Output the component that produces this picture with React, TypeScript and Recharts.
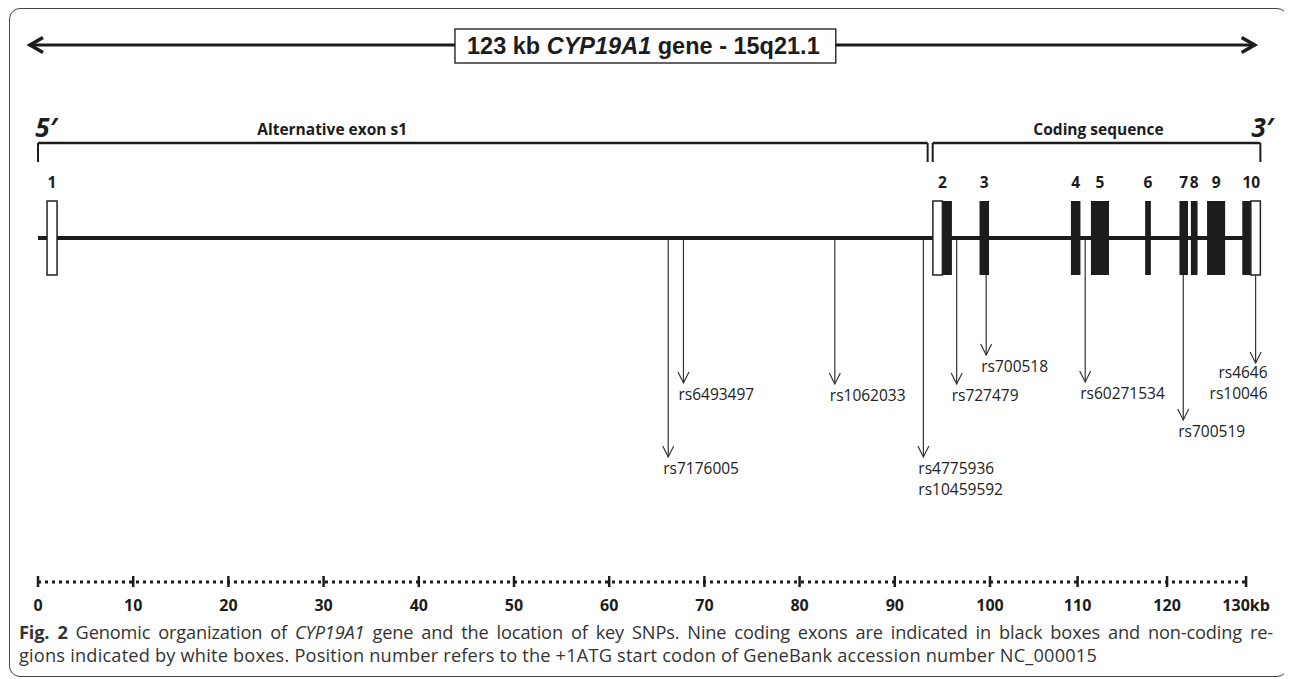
import React from "react";
import { ComposedChart, XAxis, YAxis, Scatter, ReferenceArea, ReferenceLine } from "recharts";

// positions along the gene in kb (as drawn in the figure)
const GENE_SPAN = [0, 127];
const ARROW_ENDS = [-0.84, 127.8];
const TITLE_SPAN = [43.8, 83.8];

const EXON_NAMES = ["1", "2", "3", "4", "5", "6", "7", "8", "9", "10"];
const EXON_SPANS = [
  [0.95, 2.0], [94.0, 96.0], [98.9, 99.9], [108.5, 109.5], [110.6, 112.5],
  [116.3, 116.9], [119.9, 120.8], [121.1, 121.8], [122.8, 124.7], [126.5, 128.4],
];
const CODING_PARTS = [
  [95.0, 96.0], [98.9, 99.9], [108.5, 109.5], [110.6, 112.5], [116.3, 116.9],
  [119.9, 120.8], [121.1, 121.8], [122.8, 124.7], [126.5, 127.4],
];
const NONCODING_PARTS = [[0.95, 2.0], [94.0, 95.0], [127.4, 128.4]];

const REGION_NAMES = ["Alternative exon s1", "Coding sequence"];
const REGION_SPANS = [[0, 93.45], [93.98, 128.4]];
const REGION_LABEL_POS = [30.9, 111.4];
const END_LABELS = ["5\u2032", "3\u2032"];
const END_LABEL_POS = [0.85, 128.6];

const SNP_NAMES = [
  ["rs7176005"], ["rs6493497"], ["rs1062033"], ["rs4775936", "rs10459592"], ["rs727479"],
  ["rs700518"], ["rs60271534"], ["rs700519"], ["rs4646", "rs10046"],
];
const SNP_POS = [66.2, 67.8, 83.7, 93.0, 96.5, 99.6, 110.0, 120.3, 127.9];
const SNP_DEPTH = [-219, -145, -146, -219, -146, -117, -144, -182, -125];
const SNP_IN_EXON = [false, false, false, false, false, true, false, true, true];

const TICK_POS = [0, 10, 20, 30, 40, 50, 60, 70, 80, 90, 100, 109.2, 118.6, 126.9];
const TICK_LABELS = ["0", "10", "20", "30", "40", "50", "60", "70", "80", "90", "100", "110", "120", "130kb"];

// vertical layout (track units, gene line = 0)
const BOX_H = 37;
const EXON_LABEL_Y = 56;
const BRACKET_Y = 95;
const BRACKET_TICK_Y = 76;
const REGION_LABEL_Y = 109;
const END_LABEL_Y = 111;
const ARROW_Y = 193;
const TITLE_Y = [175, 209];
const Y_DOMAIN = [-344, 230];

const INK = "#1c1c1c";
const SANS = "'Open Sans', 'Noto Sans', sans-serif";

const exonLabels = EXON_NAMES.map((n, i) => ({ x: (EXON_SPANS[i][0] + EXON_SPANS[i][1]) / 2, y: EXON_LABEL_Y, t: n }));
const regionLabels = REGION_NAMES.map((n, i) => ({ x: REGION_LABEL_POS[i], y: REGION_LABEL_Y, t: n }));
const endLabels = END_LABELS.map((n, i) => ({ x: END_LABEL_POS[i], y: END_LABEL_Y, t: n }));
const snps = SNP_POS.map((x, i) => ({ x, y: SNP_DEPTH[i], names: SNP_NAMES[i] }));
const arrowTips = ARROW_ENDS.map((x) => ({ x, y: ARROW_Y }));

const BoldLabel = (size: number, italic = false) => (p: any) => (
  <text x={p.cx} y={p.cy} textAnchor="middle" dominantBaseline="central" fontFamily={SANS}
    fontWeight={700} fontStyle={italic ? "italic" : "normal"} fontSize={size} fill={INK}>
    {p.payload.t}
  </text>
);

const SnpTip = (p: any) => {
  const right = p.payload.x > 127;
  const tx = right ? p.cx + 12 : p.cx - 5;
  return (
    <g>
      <path d={`M${p.cx - 5.5},${p.cy - 11} L${p.cx},${p.cy} L${p.cx + 5.5},${p.cy - 11}`}
        fill="none" stroke="#333" strokeWidth={1.2} />
      <text x={tx} y={p.cy + (right ? 15 : 17)} textAnchor={right ? "end" : "start"}
        fontFamily={SANS} fontSize={15.5} fill="#222">
        {p.payload.names.map((n: string, k: number) => (
          <tspan key={n} x={tx} dy={k === 0 ? 0 : 21}>{n}</tspan>
        ))}
      </text>
    </g>
  );
};

const ArrowTip = (p: any) => {
  const dir = p.payload.x < 0 ? -1 : 1;
  return (
    <path d={`M${p.cx - dir * 13},${p.cy - 7.5} L${p.cx},${p.cy} L${p.cx - dir * 13},${p.cy + 7.5}`}
      fill="none" stroke={INK} strokeWidth={3.5} />
  );
};

const renderTitle = (props: any) => {
  const vb = props.viewBox;
  return (
    <text x={vb.x + vb.width / 2 - 2} y={vb.y + vb.height / 2} textAnchor="middle" dominantBaseline="central"
      fontFamily="'Liberation Sans', Arial, sans-serif" fontWeight={700} fontSize={23.5} fill={INK}>
      123 kb <tspan fontStyle="italic">CYP19A1</tspan> gene - 15q21.1
    </text>
  );
};

const ScaleTick = (p: any) => (
  <g>
    <line x1={p.x} x2={p.x} y1={p.y - 6} y2={p.y + 5} stroke={INK} strokeWidth={2.5} />
    <text x={p.x} y={p.y + 23} textAnchor="middle" dominantBaseline="central" fontFamily={SANS}
      fontWeight={700} fontSize={16} fill={INK}>
      {TICK_LABELS[p.index]}
    </text>
  </g>
);

export default function App() {
  return (
    <div style={{ position: "relative", width: 1280, height: 671 }}>
      <div style={{ position: "absolute", left: 1, top: 0, width: 1279, height: 669, boxSizing: "border-box",
        border: "1.5px solid #444", borderRadius: 11 }} />
      <div style={{ position: "absolute", left: 0, top: 0 }}>
        <ComposedChart width={1280} height={620} margin={{ top: 0, right: 2.88, bottom: 0, left: 1.44 }}>
          <XAxis type="number" dataKey="x" domain={[-3, 131]} ticks={TICK_POS} interval={0}
            axisLine={false} tickLine={false} tickSize={0} tickMargin={0} height={46} tick={<ScaleTick />} />
          <YAxis type="number" dataKey="y" domain={Y_DOMAIN} hide />

          {/* top arrow and title box */}
          <ReferenceLine segment={[{ x: ARROW_ENDS[0], y: ARROW_Y }, { x: TITLE_SPAN[0], y: ARROW_Y }]}
            stroke={INK} strokeWidth={3} ifOverflow="visible" />
          <ReferenceLine segment={[{ x: TITLE_SPAN[1], y: ARROW_Y }, { x: ARROW_ENDS[1], y: ARROW_Y }]}
            stroke={INK} strokeWidth={3} ifOverflow="visible" />
          <ReferenceArea x1={TITLE_SPAN[0]} x2={TITLE_SPAN[1]} y1={TITLE_Y[0]} y2={TITLE_Y[1]}
            fill="#fff" fillOpacity={1} stroke="#333" strokeWidth={1.5} ifOverflow="visible" label={renderTitle} />

          {/* brackets */}
          {REGION_SPANS.map((s, i) => (
            <React.Fragment key={"br" + i}>
              <ReferenceLine segment={[{ x: s[0], y: BRACKET_Y }, { x: s[1], y: BRACKET_Y }]}
                stroke={INK} strokeWidth={2.5} ifOverflow="visible" />
              <ReferenceLine segment={[{ x: s[0], y: BRACKET_Y }, { x: s[0], y: BRACKET_TICK_Y }]}
                stroke={INK} strokeWidth={2} ifOverflow="visible" />
              <ReferenceLine segment={[{ x: s[1], y: BRACKET_Y }, { x: s[1], y: BRACKET_TICK_Y }]}
                stroke={INK} strokeWidth={2} ifOverflow="visible" />
            </React.Fragment>
          ))}

          {/* gene line and exons */}
          <ReferenceArea x1={GENE_SPAN[0]} x2={GENE_SPAN[1]} y1={-2} y2={2} fill={INK} fillOpacity={1}
            stroke="none" ifOverflow="visible" />
          {CODING_PARTS.map((s, i) => (
            <ReferenceArea key={"c" + i} x1={s[0]} x2={s[1]} y1={-BOX_H} y2={BOX_H} fill={INK} fillOpacity={1}
              stroke="none" ifOverflow="visible" />
          ))}
          {NONCODING_PARTS.map((s, i) => (
            <ReferenceArea key={"n" + i} x1={s[0]} x2={s[1]} y1={-BOX_H} y2={BOX_H} fill="#fff" fillOpacity={1}
              stroke="#222" strokeWidth={1.5} ifOverflow="visible" />
          ))}

          {/* SNP stems */}
          {SNP_POS.map((x, i) => (
            <ReferenceLine key={"s" + i} segment={[{ x, y: SNP_IN_EXON[i] ? -BOX_H : -2 }, { x, y: SNP_DEPTH[i] }]}
              stroke="#333" strokeWidth={1.2} ifOverflow="visible" />
          ))}

          {/* scale bar */}
          <ReferenceLine segment={[{ x: TICK_POS[0], y: Y_DOMAIN[0] }, { x: TICK_POS[TICK_POS.length - 1], y: Y_DOMAIN[0] }]}
            stroke={INK} strokeWidth={3} strokeDasharray="3 4" ifOverflow="visible" />

          <Scatter data={arrowTips} shape={ArrowTip} isAnimationActive={false} />
          <Scatter data={snps} shape={SnpTip} isAnimationActive={false} />
          <Scatter data={exonLabels} shape={BoldLabel(15.5)} isAnimationActive={false} />
          <Scatter data={regionLabels} shape={BoldLabel(15.5)} isAnimationActive={false} />
          <Scatter data={endLabels} shape={BoldLabel(26, true)} isAnimationActive={false} />
        </ComposedChart>
      </div>
      <div style={{ position: "absolute", left: 11, top: 613, width: 1254, fontFamily: SANS, fontSize: 18.2,
        lineHeight: "23px", color: "#333" }}>
        <div style={{ textAlign: "justify", textAlignLast: "justify", whiteSpace: "nowrap", letterSpacing: -0.15 }}>
          <b>Fig. 2</b> Genomic organization of <i>CYP19A1</i> gene and the location of key SNPs. Nine coding exons are indicated in black boxes and non-coding re-
        </div>
        <div style={{ letterSpacing: 0.2 }}>
          gions indicated by white boxes. Position number refers to the +1ATG start codon of GeneBank accession number NC_000015
        </div>
      </div>
    </div>
  );
}
